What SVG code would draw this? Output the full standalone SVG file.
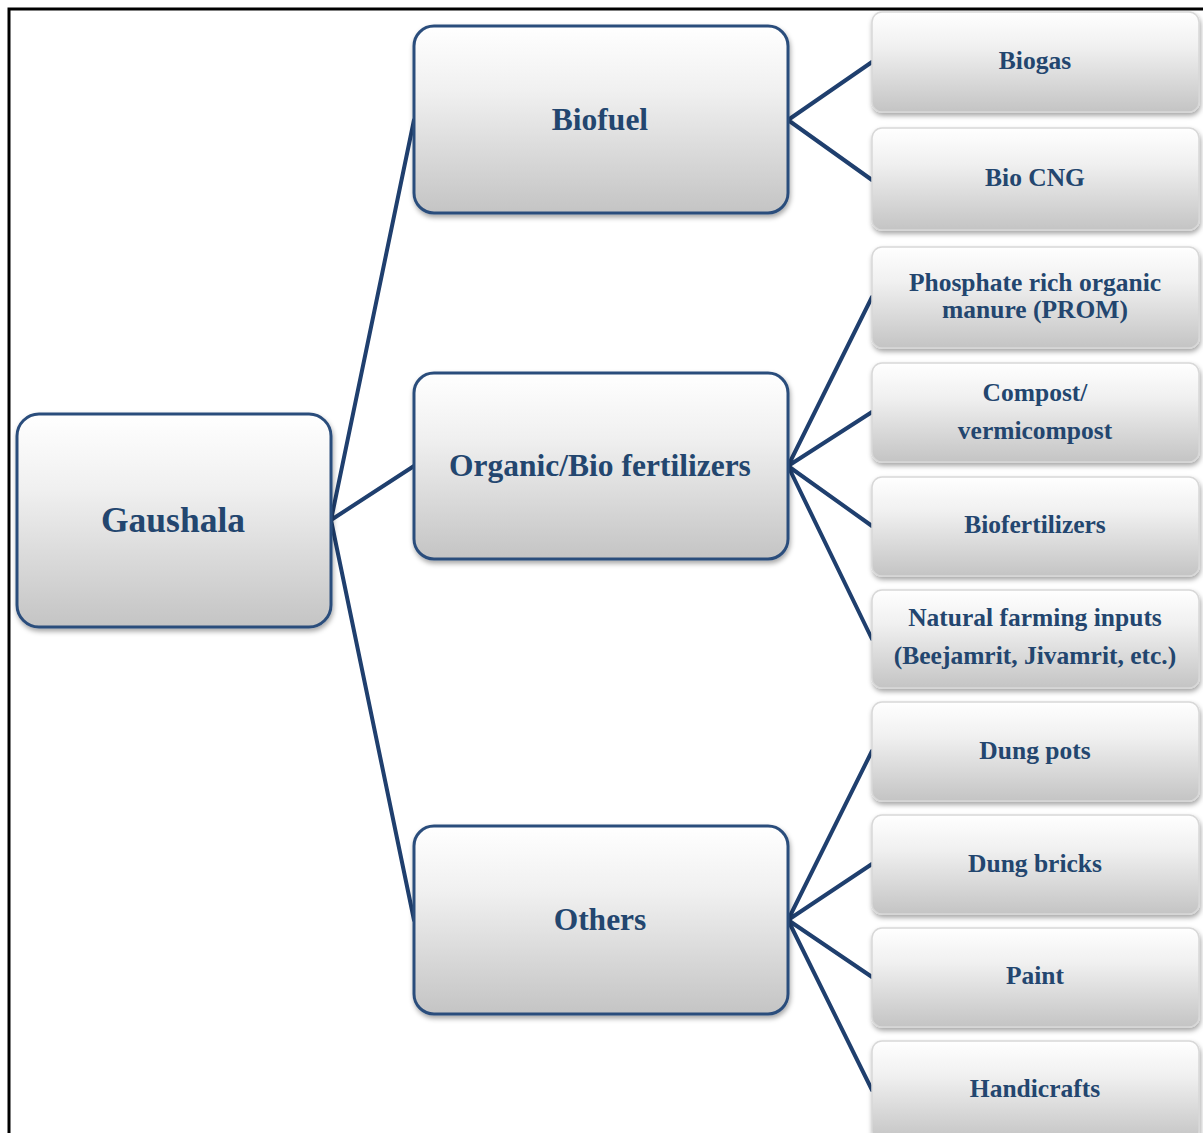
<svg xmlns="http://www.w3.org/2000/svg" width="1203" height="1133" viewBox="0 0 1203 1133">
<defs>
<linearGradient id="g" x1="0" y1="0" x2="0" y2="1">
<stop offset="0" stop-color="#ffffff"/>
<stop offset="0.35" stop-color="#f0f0f0"/>
<stop offset="1" stop-color="#c4c4c4"/>
</linearGradient>
<filter id="sh" x="-10%" y="-10%" width="120%" height="125%">
<feDropShadow dx="1" dy="3" stdDeviation="2.5" flood-color="#000" flood-opacity="0.35"/>
</filter>
<style>
.main{fill:url(#g);stroke:#2c4e7c;stroke-width:3;filter:url(#sh)}
.leaf{fill:url(#g);stroke:#d8d8d8;stroke-width:1.5;filter:url(#sh)}
.t{font-family:"Liberation Serif","Times New Roman",serif;font-weight:bold;fill:#23466f;text-anchor:middle}
.big{font-size:35.5px}
.mid{font-size:31.5px}
.sm{font-size:25.5px}
.c{fill:none;stroke:#1f3f6e;stroke-width:4;stroke-linecap:round;stroke-linejoin:round}
</style>
</defs>
<rect width="1203" height="1133" fill="#ffffff"/>
<path d="M9,1133 V9 H1203" fill="none" stroke="#000" stroke-width="3"/>

<g id="connectors">
<path class="c" d="M414,120 L331,520 L414,466"/>
<path class="c" d="M331,520 L414,920"/>
<path class="c" d="M872,62 L788,120 L872,180"/>
<path class="c" d="M872,297 L788,466 L872,412"/>
<path class="c" d="M872,526 L788,466 L872,639"/>
<path class="c" d="M872,751 L788,920 L872,864"/>
<path class="c" d="M872,977 L788,920 L872,1090"/>
</g>

<g id="gaushala"><rect class="main" x="17" y="414" width="314" height="213" rx="22"/><text class="t big" x="173" y="532">Gaushala</text></g>
<g id="biofuel"><rect class="main" x="414" y="26" width="374" height="187" rx="20"/><text class="t mid" x="600" y="130">Biofuel</text></g>
<g id="organic"><rect class="main" x="414" y="373" width="374" height="186" rx="20"/><text class="t mid" x="600" y="476">Organic/Bio fertilizers</text></g>
<g id="others"><rect class="main" x="414" y="826" width="374" height="188" rx="20"/><text class="t mid" x="600" y="930">Others</text></g>

<g id="biogas"><rect class="leaf" x="872" y="12" width="327" height="100" rx="10"/><text class="t sm" x="1035" y="69">Biogas</text></g>
<g id="biocng"><rect class="leaf" x="872" y="128" width="327" height="102" rx="10"/><text class="t sm" x="1035" y="186">Bio CNG</text></g>
<g id="prom"><rect class="leaf" x="872" y="247" width="327" height="101" rx="10"/><text class="t sm" x="1035" y="291">Phosphate rich organic</text><text class="t sm" x="1035" y="318">manure (PROM)</text></g>
<g id="compost"><rect class="leaf" x="872" y="363" width="327" height="99" rx="10"/><text class="t sm" x="1035" y="401">Compost/</text><text class="t sm" x="1035" y="439">vermicompost</text></g>
<g id="biofertilizers"><rect class="leaf" x="872" y="477" width="327" height="99" rx="10"/><text class="t sm" x="1035" y="533">Biofertilizers</text></g>
<g id="natural"><rect class="leaf" x="872" y="590" width="327" height="98" rx="10"/><text class="t sm" x="1035" y="626">Natural farming inputs</text><text class="t sm" x="1035" y="664">(Beejamrit, Jivamrit, etc.)</text></g>
<g id="dungpots"><rect class="leaf" x="872" y="702" width="327" height="99" rx="10"/><text class="t sm" x="1035" y="759">Dung pots</text></g>
<g id="dungbricks"><rect class="leaf" x="872" y="815" width="327" height="99" rx="10"/><text class="t sm" x="1035" y="872">Dung bricks</text></g>
<g id="paint"><rect class="leaf" x="872" y="928" width="327" height="99" rx="10"/><text class="t sm" x="1035" y="984">Paint</text></g>
<g id="handicrafts"><rect class="leaf" x="872" y="1041" width="327" height="100" rx="10"/><text class="t sm" x="1035" y="1097">Handicrafts</text></g>
</svg>
